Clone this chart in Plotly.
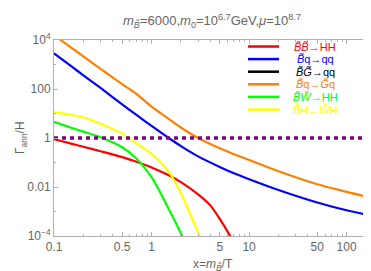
import plotly.graph_objects as go

# ---- data ----
x_blue = [0.1, 0.15, 0.2, 0.3, 0.5, 0.7, 1, 1.5, 2, 3, 5, 7, 10, 20, 50, 100, 200]
y_blue = [2818, 851, 363, 110, 23.5, 8.7, 3.1, 1.0, 0.468, 0.178, 0.066, 0.0363,
          0.0209, 0.00759, 0.00234, 0.00112, 6.3e-4]

x_orange = [0.1, 0.15, 0.2, 0.3, 0.5, 0.7, 1, 1.5, 2, 3, 5, 7, 10, 20, 50, 100, 200]
y_orange = [15800, 4900, 2140, 661, 158, 63, 19.1, 6.03, 2.69, 1.0, 0.38, 0.219,
            0.126, 0.0437, 0.0129, 0.0063, 0.0033]

x_red = [0.1, 0.15, 0.2, 0.3, 0.5, 0.7, 1, 1.5, 2, 3, 4, 5, 6.4, 7]
y_red = [0.891, 0.589, 0.437, 0.288, 0.166, 0.107, 0.0631, 0.0302, 0.0158, 0.005,
         1.78e-3, 5.0e-4, 1.0e-4, 5.2e-5]

x_green = [0.1, 0.15, 0.2, 0.3, 0.5, 0.7, 1, 1.5, 2, 2.15]
y_green = [4.57, 2.63, 1.82, 1.07, 0.417, 0.145, 0.0251, 1.26e-3, 1.26e-4, 6.3e-5]

x_yellow = [0.1, 0.15, 0.2, 0.3, 0.5, 0.7, 1, 1.5, 2, 3, 3.2]
y_yellow = [11.2, 8.9, 6.9, 3.8, 1.51, 0.603, 0.224, 0.0417, 5.6e-3, 1.41e-4, 7.9e-5]

x_black = []
y_black = []

x_ref = [0.1, 200]
y_ref = [1, 1]

names = ["<i>B̃B̃</i>→HH", "<i>B̃</i>q→qq", "<i>B̃G̃</i>→qq",
         "<i>B̃</i>q→<i>G̃</i>q", "<i>B̃W̃</i>→HH", "<i>B̃</i>H→<i>W̃</i>H"]
colors = ["#ff0000", "#0000ff", "#000000", "#ff8000", "#00ff00", "#ffff00"]
series_x = [x_red, x_blue, x_black, x_orange, x_green, x_yellow]
series_y = [y_red, y_blue, y_black, y_orange, y_green, y_yellow]

x_ticks = [0.1, 0.5, 1, 5, 10, 50, 100]
x_ticklabels = ["0.1", "0.5", "1", "5", "10", "50", "100"]
x_minor = [0.2, 0.3, 0.4, 0.6, 0.7, 0.8, 0.9, 2, 3, 4, 6, 7, 8, 9,
           20, 30, 40, 60, 70, 80, 90, 200]
y_ticks = [1e4, 100, 1, 0.01, 1e-4]
y_ticklabels = ["10<sup>4</sup>", "100", "1", "0.01", "10<sup>−4</sup>"]
y_minor = [1e3, 10, 0.1, 1e-3]

title_text = ("<i>m</i><sub><i>B̃</i></sub>=6000,<i>m</i><sub>0</sub>=10<sup>6.7</sup>"
              "GeV,<i>μ</i>=10<sup>8.7</sup>")

FONT = "Liberation Sans"
GRAY = "#666666"

fig = go.Figure()
for xs, ys, c, n in zip(series_x, series_y, colors, names):
    fig.add_trace(go.Scatter(x=xs, y=ys, mode="lines",
                             line=dict(color=c, width=2.2, shape="spline", smoothing=0.8),
                             name=n, showlegend=False))
fig.add_trace(go.Scatter(x=x_ref, y=y_ref, mode="lines",
                         line=dict(color="#800080", width=3.5, dash="4px,4px"), showlegend=False))

# manual legend
shapes = []
annotations = []
leg_y0 = 38.5
leg_dy = 12.6
for i, (c, n) in enumerate(zip(colors, names)):
    yy = 1 - (leg_y0 + i * leg_dy - 32) / 196.0
    shapes.append(dict(type="line", xref="paper", yref="paper",
                       x0=(240 - 46) / 322.0, x1=(271 - 46) / 322.0, y0=yy, y1=yy,
                       line=dict(color=c, width=2.5)))
    annotations.append(dict(xref="paper", yref="paper", x=(307 - 46) / 322.0, y=yy,
                            text=n, showarrow=False, xanchor="center", yanchor="middle",
                            font=dict(color=c, size=11, family=FONT)))

annotations.append(dict(xref="paper", yref="paper", x=(204 - 46) / 322.0, y=1 + 19 / 196.0,
                        text=title_text, showarrow=False, xanchor="center", yanchor="middle",
                        font=dict(size=13, color=GRAY, family=FONT)))
annotations.append(dict(xref="paper", yref="paper", x=-33 / 322.0, y=0.5, text="Γ<sub>ann</sub>/H",
                        showarrow=False, textangle=-90, xanchor="center", yanchor="middle",
                        font=dict(size=12, color=GRAY, family=FONT)))
annotations.append(dict(xref="paper", yref="paper", x=(205 - 46) / 322.0, y=-29 / 196.0,
                        text="x=<i>m</i><sub><i>B̃</i></sub>/T",
                        showarrow=False, xanchor="center", yanchor="middle",
                        font=dict(size=12, color=GRAY, family=FONT)))

axis_common = dict(showgrid=False, zeroline=False, showline=True, linecolor="#b0b0b0", linewidth=1,
                   mirror="allticks", ticks="inside", ticklen=4, tickcolor="#b0b0b0",
                   tickfont=dict(size=12, color=GRAY, family=FONT))

fig.update_layout(
    width=371, height=271,
    margin=dict(l=46, r=3, t=32, b=43),
    plot_bgcolor="white", paper_bgcolor="white",
    font=dict(family=FONT, size=12, color=GRAY),
    showlegend=False,
    shapes=shapes, annotations=annotations,
    xaxis=dict(type="log", range=[-1, 2.301], tickmode="array", tickvals=x_ticks,
               ticktext=x_ticklabels,
               minor=dict(tickmode="array", tickvals=x_minor, ticks="inside", ticklen=2,
                          tickcolor="#b0b0b0"),
               **axis_common),
    yaxis=dict(type="log", range=[-4, 4], tickmode="array", tickvals=y_ticks,
               ticktext=y_ticklabels,
               minor=dict(tickmode="array", tickvals=y_minor, ticks="inside", ticklen=2,
                          tickcolor="#b0b0b0"),
               **axis_common),
)

fig.write_html("out.html")
